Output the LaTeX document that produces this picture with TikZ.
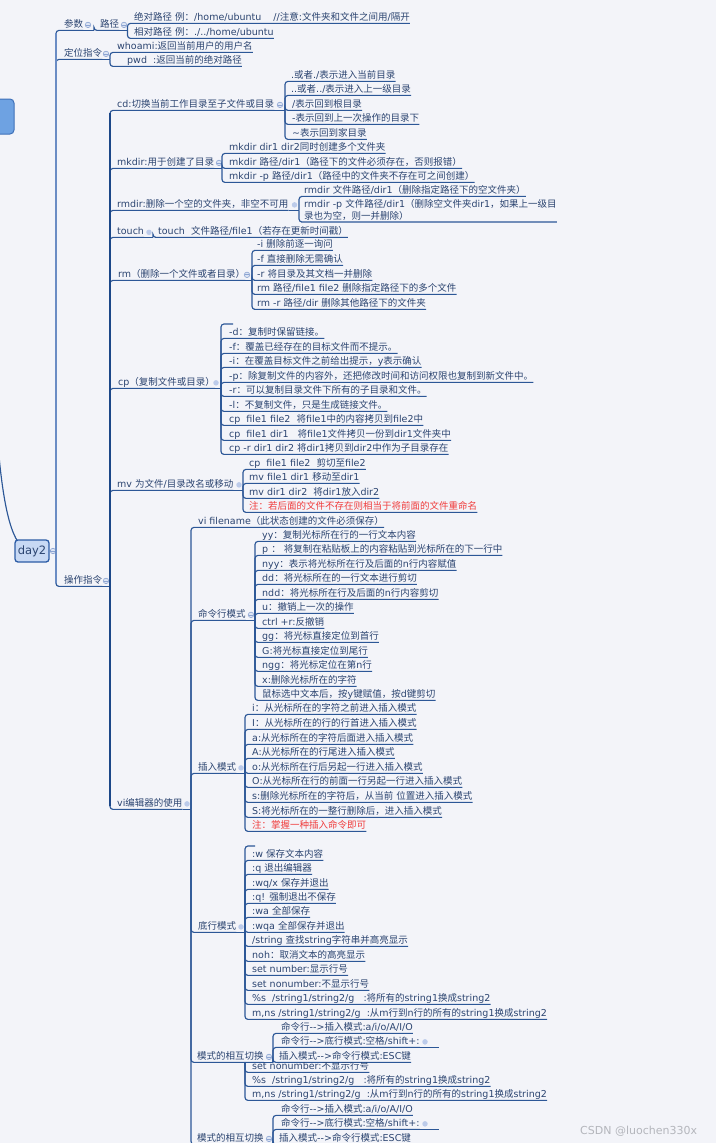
\documentclass[tikz,border=0pt]{standalone}
\usepackage{fontspec}
\setmainfont{DejaVu Sans}
\newfontfamily\cjkf{Noto Sans CJK SC}
\newfontfamily\latf{DejaVu Sans}
\XeTeXinterchartokenstate=1
\newXeTeXintercharclass\CJKcls
\newcount\mmcnt
\def\mmsetrange#1#2{\mmcnt=#1\relax\loop\XeTeXcharclass\mmcnt=\CJKcls\relax\ifnum\mmcnt<#2\relax\advance\mmcnt by 1\relax\repeat}
\mmsetrange{"3000}{"303F}
\mmsetrange{"4E00}{"9FFF}
\mmsetrange{"FF00}{"FFEF}
\XeTeXinterchartoks 0 \CJKcls = {\cjkf}
\XeTeXinterchartoks 4095 \CJKcls = {\cjkf}
\XeTeXinterchartoks \CJKcls 0 = {\latf}
\XeTeXinterchartoks \CJKcls 4095 = {\latf}
\usetikzlibrary{calc}
\definecolor{bg}{HTML}{F3F4F9}
\definecolor{txt}{HTML}{2B4470}
\definecolor{lnc}{HTML}{2C5797}
\definecolor{trkA}{HTML}{6A8CC4}
\definecolor{trkB}{HTML}{1C4788}
\definecolor{redt}{HTML}{F03C3C}
\definecolor{cdr}{HTML}{8CA4D2}
\definecolor{cfl}{HTML}{DDE5F4}
\definecolor{dotc}{HTML}{BCCBEA}
\definecolor{dfl}{HTML}{C8D9F4}
\definecolor{dbd}{HTML}{2C5CA6}
\definecolor{rfl}{HTML}{6EA2E2}
\definecolor{rbd}{HTML}{3E70B8}
\definecolor{wm}{HTML}{B4B6BC}

\newcommand{\mmkid}[5][]{%
  \node[topic,#1] (#2) at (#4) {#5};%
  \draw[mmline] (#3) |- (#2.south west) -- (#2.south east);%
}
\newcommand{\mmpar}[8][]{%
  \mmkid[#1]{#2}{#3}{#4}{#5}%
  \coordinate (#2B) at (#2.south -| #7,0);%
  \draw[mmline] (#2.south east) -- (#2B);%
  \node[#8] (#2C) at (#2.east -| #6,0) {};%
}

\begin{document}
\begin{tikzpicture}[x=1pt,y=-1pt,
 topic/.style={anchor=base west,inner sep=0pt,text depth=2.6pt,yshift=-3.6pt,font=\fontsize{9.5}{11}\selectfont,text=txt},
 topictwo/.style={anchor=south west,inner xsep=0pt,inner ysep=1.2pt,align=left,font=\fontsize{9.5}{12}\selectfont,text=txt},
 mmline/.style={draw=lnc,line width=1.15pt,rounded corners=3pt},
 trunkA/.style={draw=trkA,line width=2pt},
 trunkB/.style={draw=trkB,line width=2.4pt},
 coll/.style={circle,draw=cdr,fill=cfl,line width=0.6pt,inner sep=0pt,minimum size=5.5pt,
   path picture={\draw[cdr,line width=0.7pt] ([xshift=-1.6pt]path picture bounding box.center) -- ([xshift=1.6pt]path picture bounding box.center);}},
 fulldot/.style={circle,fill=dotc,inner sep=0pt,minimum size=5.5pt},
 daybox/.style={draw=dbd,fill=dfl,line width=1.3pt,rounded corners=3pt,minimum width=34pt,minimum height=22pt,inner sep=0pt,font=\fontsize{11.5}{12}\selectfont,text=txt},
 rootbox/.style={draw=rbd,fill=rfl,line width=1pt,rounded corners=4pt,minimum width=52pt,minimum height=35pt,inner sep=0pt},
]
\useasboundingbox (0,0) rectangle (716,1143);
\fill[bg] (0,0) rectangle (716,1143);

% root and day2
\node[rootbox] (root) at (-12,116.5) {};
\draw[mmline] (root.south) .. controls (-8,430) and (-2,551) .. (32,551);
\node[daybox] (day2) at (32,551) {day2};
\coordinate (rootB) at (56,551);
\draw[mmline] (day2.east) -- (rootB);
\node[coll] (day2C) at (53,551) {};

% level 1
\mmpar{cs}{rootB}{64,24}{参数}{88}{94}{coll}
\mmpar{lj}{csB}{100,24}{路径}{124}{127.5}{coll}
\mmkid{lj1}{ljB}{134,17}{绝对路径 例：/home/ubuntu\ \ \ \ //注意:文件夹和文件之间用/隔开}
\mmkid{lj2}{ljB}{134,32}{相对路径 例：./../home/ubuntu}

\mmpar{dw}{rootB}{64,53}{定位指令}{106}{110}{coll}
\mmkid{dw1}{dwB}{117,46}{whoami:返回当前用户的用户名}
\mmkid{dw2}{dwB}{127,60}{pwd\ \ :返回当前的绝对路径}

\mmpar{op}{rootB}{64,580}{操作指令}{106}{110}{coll}

% cd
\mmpar{cd}{opB}{117,104}{cd:切换当前工作目录至子文件或目录}{280}{285}{coll}
\mmkid{cd1}{cdB}{291,75}{.或者./表示进入当前目录}
\mmkid{cd2}{cdB}{291,89}{..或者../表示进入上一级目录}
\mmkid{cd3}{cdB}{292,104}{/表示回到根目录}
\mmkid{cd4}{cdB}{292,118}{-表示回到上一次操作的目录下}
\mmkid{cd5}{cdB}{292,133}{\textasciitilde 表示回到家目录}

% mkdir
\mmpar{mk}{opB}{117,162}{mkdir:用于创建了目录}{219}{222}{coll}
\mmkid{mk1}{mkB}{229,147}{mkdir dir1 dir2同时创建多个文件夹}
\mmkid{mk2}{mkB}{229,162}{mkdir 路径/dir1（路径下的文件必须存在，否则报错）}
\mmkid{mk3}{mkB}{229,176}{mkdir -p 路径/dir1（路径中的文件夹不存在可之间创建）}

% rmdir
\mmpar{rd}{opB}{117,204}{rmdir:删除一个空的文件夹，非空不可用}{294.5}{299}{fulldot}
\mmkid{rd1}{rdB}{304,190}{rmdir 文件路径/dir1（删除指定路径下的空文件夹）}
\node[topictwo] (rd2) at (304,222) {rmdir -p 文件路径/dir1（删除空文件夹dir1，如果上一级目\\录也为空，则一并删除）};
\draw[mmline] (rdB) |- (rd2.south west) -- (rd2.south east);

% touch
\mmpar{tc}{opB}{117,231}{touch}{149}{153}{fulldot}
\mmkid{tc1}{tcB}{158,231}{touch\ \ 文件路径/file1（若存在更新时间戳）}

% rm
\mmpar{rm}{opB}{118,274}{rm（删除一个文件或者目录）}{247}{252}{coll}
\mmkid{rm1}{rmB}{257,244}{-i 删除前逐一询问}
\mmkid{rm2}{rmB}{257,259}{-f 直接删除无需确认}
\mmkid{rm3}{rmB}{257,274}{-r 将目录及其文档一并删除}
\mmkid{rm4}{rmB}{257,288}{rm 路径/file1 file2 删除指定路径下的多个文件}
\mmkid{rm5}{rmB}{257,303}{rm -r 路径/dir 删除其他路径下的文件夹}

% cp
\mmpar{cp}{opB}{118,382}{cp（复制文件或目录）}{216}{221}{fulldot}
\coordinate (cpS) at (233,324);
\draw[mmline] (cpB) |- (cpS);
\mmkid{cp1}{cpB}{229,332}{-d：复制时保留链接。}
\mmkid{cp2}{cpB}{229,347}{-f：覆盖已经存在的目标文件而不提示。}
\mmkid{cp3}{cpB}{229,361}{-i：在覆盖目标文件之前给出提示，y表示确认}
\mmkid{cp4}{cpB}{229,376}{-p：除复制文件的内容外，还把修改时间和访问权限也复制到新文件中。}
\mmkid{cp5}{cpB}{229,390}{-r：可以复制目录文件下所有的子目录和文件。}
\mmkid{cp6}{cpB}{229,405}{-l：不复制文件，只是生成链接文件。}
\mmkid{cp7}{cpB}{229,419}{cp\ \ file1 file2\ \ 将file1中的内容拷贝到file2中}
\mmkid{cp8}{cpB}{229,434}{cp\ \ file1 dir1\ \ \ 将file1文件拷贝一份到dir1文件夹中}
\mmkid{cp9}{cpB}{229,448}{cp -r dir1 dir2 将dir1拷贝到dir2中作为子目录存在}

% mv
\mmpar{mv}{opB}{117,484}{mv 为文件/目录改名或移动}{239}{243}{fulldot}
\mmkid{mv1}{mvB}{249,463}{cp\ \ file1 file2\ \ 剪切至file2}
\mmkid{mv2}{mvB}{249,477}{mv file1 dir1 移动至dir1}
\mmkid{mv3}{mvB}{249,492}{mv dir1 dir2\ \ 将dir1放入dir2}
\mmkid[text=redt]{mv4}{mvB}{249,506}{注：若后面的文件不存在则相当于将前面的文件重命名}

% vi
\mmpar{vi}{opB}{117,803}{vi编辑器的使用}{187}{191}{fulldot}
\mmkid{vi1}{viB}{198,521}{vi filename（此状态创建的文件必须保存）}

\mmpar{ml}{viB}{198,614}{命令行模式}{251}{255}{coll}
\mmkid{ml1}{mlB}{262,535}{yy：复制光标所在行的一行文本内容}
\mmkid{ml2}{mlB}{262,549}{p ：\ 将复制在粘贴板上的内容粘贴到光标所在的下一行中}
\mmkid{ml3}{mlB}{262,564}{nyy：表示将光标所在行及后面的n行内容赋值}
\mmkid{ml4}{mlB}{262,578}{dd：将光标所在的一行文本进行剪切}
\mmkid{ml5}{mlB}{262,593}{ndd：将光标所在行及后面的n行内容剪切}
\mmkid{ml6}{mlB}{262,607}{u：撤销上一次的操作}
\mmkid{ml7}{mlB}{262,622}{ctrl +r:反撤销}
\mmkid{ml8}{mlB}{262,636}{gg：将光标直接定位到首行}
\mmkid{ml9}{mlB}{262,651}{G:将光标直接定位到尾行}
\mmkid{ml10}{mlB}{262,665}{ngg：将光标定位在第n行}
\mmkid{ml11}{mlB}{262,680}{x:删除光标所在的字符}
\mmkid{ml12}{mlB}{262,694}{鼠标选中文本后，按y键赋值，按d键剪切}

\mmpar{cr}{viB}{198,767}{插入模式}{241}{245}{fulldot}
\mmkid{cr1}{crB}{252,708}{i：从光标所在的字符之前进入插入模式}
\mmkid{cr2}{crB}{252,723}{I：从光标所在的行的行首进入插入模式}
\mmkid{cr3}{crB}{252,738}{a:从光标所在的字符后面进入插入模式}
\mmkid{cr4}{crB}{252,752}{A:从光标所在的行尾进入插入模式}
\mmkid{cr5}{crB}{252,767}{o:从光标所在行后另起一行进入插入模式}
\mmkid{cr6}{crB}{252,781}{O:从光标所在行的前面一行另起一行进入插入模式}
\mmkid{cr7}{crB}{252,796}{s:删除光标所在的字符后，从当前 位置进入插入模式}
\mmkid{cr8}{crB}{252,811}{S:将光标所在的一整行删除后，进入插入模式}
\mmkid[text=redt]{cr9}{crB}{252,825}{注：掌握一种插入命令即可}

\mmpar{dh}{viB}{198,926}{底行模式}{241}{245}{fulldot}
\coordinate (dhS) at (255,846);
\draw[mmline] (dhB) |- (dhS);
\mmkid{dh1}{dhB}{252,854}{:w 保存文本内容}
\mmkid{dh2}{dhB}{252,868}{:q 退出编辑器}
\mmkid{dh3}{dhB}{252,883}{:wq/x 保存并退出}
\mmkid{dh4}{dhB}{252,897}{:q! 强制退出不保存}
\mmkid{dh5}{dhB}{252,911}{:wa 全部保存}
\mmkid{dh6}{dhB}{252,926}{:wqa 全部保存并退出}
\mmkid{dh7}{dhB}{252,940}{/string 查找string字符串并高亮显示}
\mmkid{dh8}{dhB}{252,955}{noh：取消文本的高亮显示}
\mmkid{dh9}{dhB}{252,969}{set number:显示行号}
\mmkid{dh10}{dhB}{252,984}{set nonumber:不显示行号}
\mmkid{dh11}{dhB}{252,998}{\%s\ \ /string1/string2/g\ \ \ :将所有的string1换成string2}
\mmkid{dh12}{dhB}{252,1013}{m,ns /string1/string2/g\ \ :从m行到n行的所有的string1换成string2}

\mmpar{qh}{viB}{197,1056}{模式的相互切换}{269}{273}{coll}
\mmkid{qh1}{qhB}{281,1027}{命令行-{}->插入模式:a/i/o/A/I/O}
\mmkid{qh2}{qhB}{281,1041}{命令行-{}->底行模式:空格/shift+:}
\node[fulldot] (qh2C) at (qh2.east -| 425,0) {};
\coordinate (qh2E) at (qh2.south -| 439,0);
\draw[mmline] (qh2.south east) -- (qh2E);
\mmkid{qh3}{qhB}{279,1056}{插入模式-{}->命令行模式:ESC键}

% repeated fragment at the bottom
\coordinate (gB) at (245,1062);
\begin{scope}
\clip (0,1062.5) rectangle (716,1143);
\mmkid{g1}{gB}{252,1066}{set nonumber:不显示行号}
\end{scope}
\mmkid{g2}{gB}{252,1080}{\%s\ \ /string1/string2/g\ \ \ :将所有的string1换成string2}
\mmkid{g3}{gB}{252,1094}{m,ns /string1/string2/g\ \ :从m行到n行的所有的string1换成string2}

\mmpar{qb}{viB}{197,1138}{模式的相互切换}{269}{273}{coll}
\mmkid{qb1}{qbB}{281,1109}{命令行-{}->插入模式:a/i/o/A/I/O}
\mmkid{qb2}{qbB}{281,1123}{命令行-{}->底行模式:空格/shift+:}
\node[fulldot] (qb2C) at (qb2.east -| 425,0) {};
\coordinate (qb2E) at (qb2.south -| 439,0);
\draw[mmline] (qb2.south east) -- (qb2E);
\mmkid{qb3}{qbB}{279,1138}{插入模式-{}->命令行模式:ESC键}

% trunks
\draw[trunkA] ($(cs.south -| rootB)+(0,3)$) -- ($(op.south -| rootB)+(0,-3)$);
\draw[trunkB] ($(cd.south -| opB)+(0,3)$) -- ($(vi.south -| opB)+(0,-3)$);

% watermark
\node[anchor=base west,inner sep=0pt,text=wm,font=\fontsize{11}{12}\selectfont] (wmk) at (580,1134) {CSDN @luochen330x};
\end{tikzpicture}
\end{document}
